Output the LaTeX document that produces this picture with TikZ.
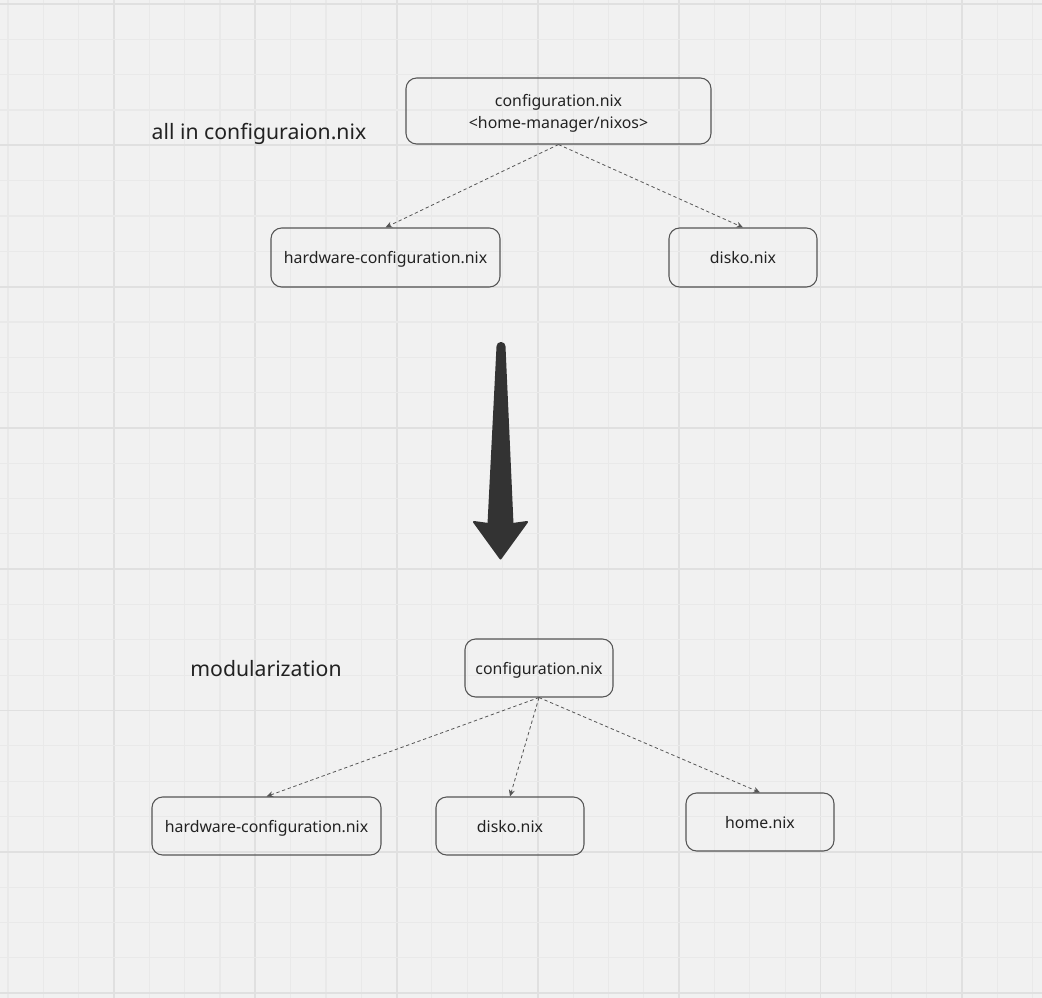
\documentclass[tikz,border=0pt]{standalone}
\usepackage{fontspec}
\setmainfont{Noto Sans}
\usetikzlibrary{arrows.meta}
\definecolor{canvas}{HTML}{F1F1F1}
\definecolor{gridminor}{HTML}{E9E9E9}
\definecolor{gridmajor}{HTML}{E0E0E0}
\definecolor{ink}{HTML}{222222}
\definecolor{edge}{HTML}{555555}
\definecolor{bigarrow}{HTML}{333333}
\begin{document}
\begin{tikzpicture}[x=0.75pt,y=-0.75pt,
  filebox/.style={draw=edge, line width=0.8pt, rounded corners=8pt, inner sep=0pt,
    align=center, text=ink, text depth=0pt, font=\fontsize{11.9}{16.5}\selectfont},
  caption/.style={text=ink, inner sep=0pt, text depth=0pt, font=\fontsize{15.9}{19}\selectfont},
  link/.style={draw=edge, line width=0.6pt, dash pattern=on 2.5pt off 2pt,
    -{Stealth[length=5pt,width=4.5pt]}}
]
% canvas and grid
\fill[canvas] (0,0) rectangle (1042,998);
\useasboundingbox (0,0) rectangle (1042,998);
\foreach \k in {0,...,29} {
  \pgfmathsetmacro{\gx}{8+35.33*\k}
  \pgfmathtruncatemacro{\isMajor}{mod(\k,4)==3}
  \ifnum\isMajor=1
    \draw[gridmajor, line width=1.3pt] (\gx,0) -- (\gx,998);
  \else
    \draw[gridminor, line width=0.8pt] (\gx,0) -- (\gx,998);
  \fi
}
\foreach \k in {0,...,28} {
  \pgfmathsetmacro{\gy}{4+35.33*\k}
  \pgfmathtruncatemacro{\isMajor}{mod(\k,4)==0}
  \ifnum\isMajor=1
    \draw[gridmajor, line width=1.3pt] (0,\gy) -- (1042,\gy);
  \else
    \draw[gridminor, line width=0.8pt] (0,\gy) -- (1042,\gy);
  \fi
}

% upper layout: everything in configuration.nix
\node[caption] (capA) at (259,131) {all in configuraion.nix};
\node[filebox, minimum width=228.75pt, minimum height=49.5pt] (cfgA) at (558.5,111)
  {configuration.nix\\<home-manager/nixos>};
\node[filebox, minimum width=171.75pt, minimum height=44.25pt] (hwA) at (385.5,257.5)
  {hardware-configuration.nix};
\node[filebox, minimum width=111pt, minimum height=44.25pt] (diskA) at (743,257.5)
  {disko.nix};
\draw[link] (cfgA.south) -- (hwA.north);
\draw[link] (cfgA.south) -- (diskA.north);

% transition arrow: tapered shaft with a broad head
\fill[bigarrow, draw=bigarrow, line width=1.5pt, line join=round]
  (497.5,346.5) arc[start angle=180, end angle=360, radius=3.5] -- (512.5,524)
  -- (527,522) -- (500.5,558.5) -- (474,522) -- (488.5,524) -- cycle;

% lower layout: modular configuration
\node[caption] (capB) at (266,668) {modularization};
\node[filebox, minimum width=111pt, minimum height=43.5pt] (cfgB) at (539,668)
  {configuration.nix};
\node[filebox, minimum width=171.75pt, minimum height=43.5pt] (hwB) at (266.5,826)
  {hardware-configuration.nix};
\node[filebox, minimum width=111pt, minimum height=43.5pt] (diskB) at (510,826)
  {disko.nix};
\node[filebox, minimum width=111pt, minimum height=43.5pt] (homeB) at (760,822)
  {home.nix};
\draw[link] (cfgB.south) -- (hwB.north);
\draw[link] (cfgB.south) -- (diskB.north);
\draw[link] (cfgB.south) -- (homeB.north);
\end{tikzpicture}
\end{document}
